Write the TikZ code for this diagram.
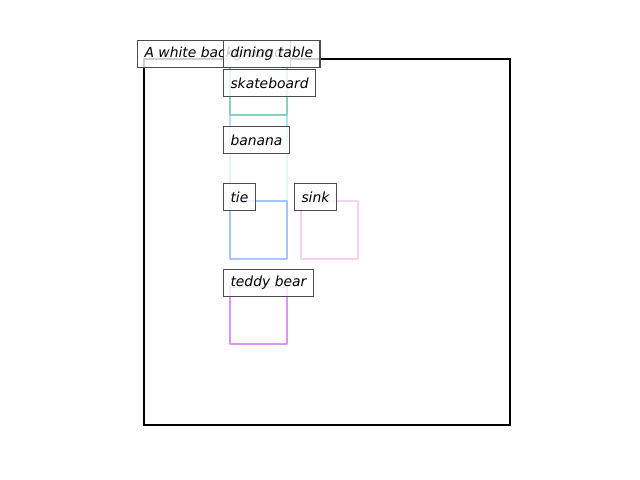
\documentclass[tikz,border=0pt]{standalone}
\usepackage{fontspec}
\setmainfont{DejaVu Sans}
\usepackage{xcolor}
\usetikzlibrary{positioning}
\definecolor{skatecol}{HTML}{86D2B6}
\definecolor{tablecol}{HTML}{B4E2FA}
\definecolor{bananacol}{HTML}{DDF9F0}
\definecolor{tiecol}{HTML}{A2C6FA}
\definecolor{sinkcol}{HTML}{F8D0F0}
\definecolor{teddycol}{HTML}{DE94F2}

\begin{document}
\begin{tikzpicture}[
    x=0.72pt, y=-0.72pt,
    every node/.style={font=\itshape\fontsize{10}{12}\selectfont},
    tag/.style={rectangle, draw=black!70, line width=0.8pt, fill=white, fill opacity=0.8, text opacity=1, anchor=west, inner xsep=5pt, inner ysep=0pt, minimum height=20pt},
    bbox/.style={line width=1.8pt, line join=round}
]
    \useasboundingbox (0,0) rectangle (640,480);

    % Image frame
    \draw[line width=1.5pt] (144,59) rectangle (510,425);

    % Boxes
    \draw[bbox, draw=tablecol] (230,59) rectangle (287,144);
    \draw[bbox, draw=skatecol] (230,59) rectangle (287,115);
    \draw[bbox, draw=bananacol] (230,144) rectangle (287,201);
    \draw[bbox, draw=tiecol] (230,201) rectangle (287,259);
    \draw[bbox, draw=sinkcol] (301,201) rectangle (358,259);
    \draw[bbox, draw=teddycol] (230,287) rectangle (287,344);

    % Labels
    \node[tag] (caption) at (137,54) {A white background};
    \node[tag] (dining) at (223,54) {dining table};
    \node[tag] (skateboard) at (223,83) {skateboard};
    \node[tag] (banana) at (223,140) {banana};
    \node[tag] (tie) at (223,197) {tie};
    \node[tag] (sink) at (294,197) {sink};
    \node[tag] (teddy) at (223,283) {teddy bear};
\end{tikzpicture}
\end{document}
